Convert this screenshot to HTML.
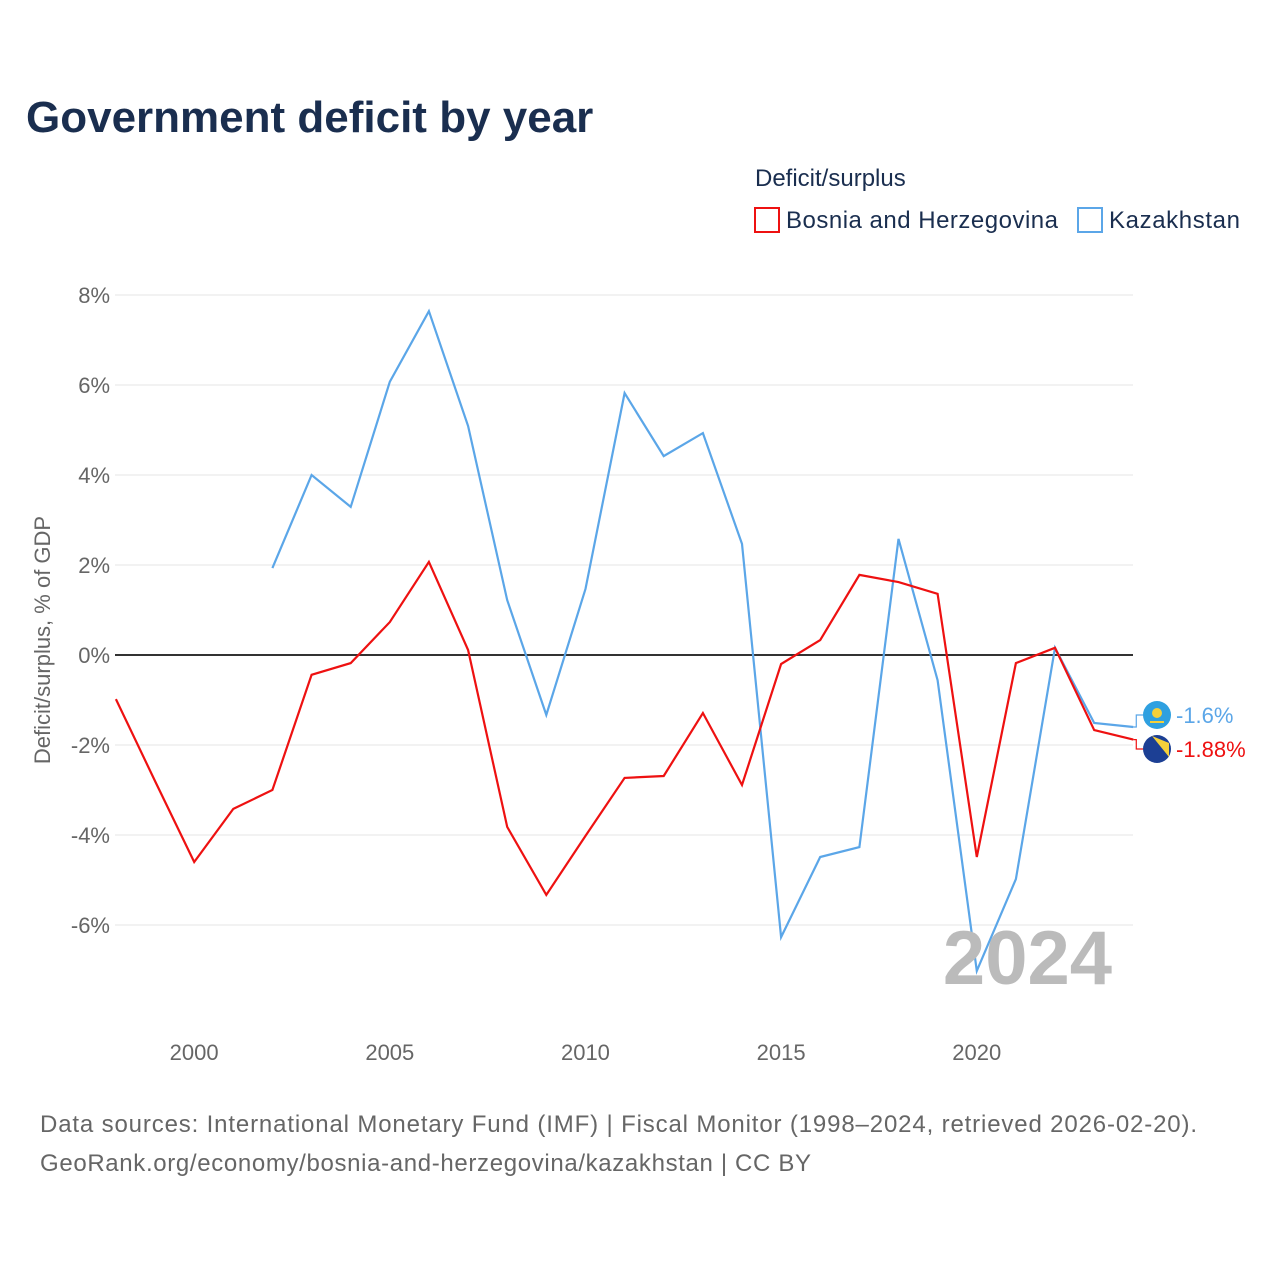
<!DOCTYPE html>
<html><head><meta charset="utf-8"><style>
body{margin:0;background:#fff;font-family:"Liberation Sans",sans-serif}
svg{display:block}
</style></head><body>
<svg id="c" width="1280" height="1280" xmlns="http://www.w3.org/2000/svg">
<text x="26" y="132" font-size="44" font-weight="bold" fill="#1a2e4f">Government deficit by year</text>
<text x="755" y="186" font-size="24" fill="#1a2e4f">Deficit/surplus</text>
<g><rect x="755" y="208" width="24" height="24" fill="none" stroke="#ee1111" stroke-width="2"/><text x="786" y="228" font-size="24" fill="#1a2e4f" textLength="272">Bosnia and Herzegovina</text></g>
<g><rect x="1078" y="208" width="24" height="24" fill="none" stroke="#5ba6e8" stroke-width="2"/><text x="1109" y="228" font-size="24" fill="#1a2e4f" textLength="131">Kazakhstan</text></g>
<text transform="translate(50,640) rotate(-90)" text-anchor="middle" font-size="22" fill="#666">Deficit/surplus, % of GDP</text>
<g id="grid"></g><g id="series"></g>
<text x="1112" y="984" text-anchor="end" font-size="76" font-weight="bold" fill="#bbb">2024</text>
<text x="40" y="1132" font-size="24" fill="#666" textLength="1157">Data sources: International Monetary Fund (IMF) | Fiscal Monitor (1998–2024, retrieved 2026-02-20).</text>
<text x="40" y="1171" font-size="24" fill="#666" textLength="771">GeoRank.org/economy/bosnia-and-herzegovina/kazakhstan | CC BY</text>
</svg>
<script>
const years=[1998,1999,2000,2001,2002,2003,2004,2005,2006,2007,2008,2009,2010,2011,2012,2013,2014,2015,2016,2017,2018,2019,2020,2021,2022,2023,2024];
const bosnia=[-0.98,-2.8,-4.6,-3.42,-3.0,-0.44,-0.18,0.73,2.07,0.11,-3.82,-5.33,-4.02,-2.73,-2.69,-1.29,-2.89,-0.2,0.33,1.78,1.62,1.36,-4.49,-0.18,0.16,-1.67,-1.88];
const kazakhstan=[null,null,null,null,1.93,4.0,3.29,6.07,7.64,5.09,1.22,-1.33,1.47,5.82,4.42,4.93,2.47,-6.27,-4.49,-4.27,2.58,-0.56,-7.02,-4.98,0.16,-1.51,-1.6];
const yTicks=[8,6,4,2,0,-2,-4,-6];
const xTicks=[2000,2005,2010,2015,2020];
const X=y=>115.9+(y-1998)*39.13, Y=v=>655-v*45;
const NS="http://www.w3.org/2000/svg";
function mk(t,a,p){const e=document.createElementNS(NS,t);for(const k in a)e.setAttribute(k,a[k]);p.appendChild(e);return e;}
const g=document.getElementById('grid'),s=document.getElementById('series');
yTicks.forEach(v=>{
 const l=mk('line',{x1:115,x2:1133,y1:Y(v),y2:Y(v),stroke:v===0?'#333':'#e6e6e6','stroke-width':v===0?2:1},g);
 
 
 const t=mk('text',{x:110,y:Y(v)+8,'text-anchor':'end','font-size':22,fill:'#666'},g);t.textContent=v+'%';
 
 
});
xTicks.forEach(v=>{
 const t=mk('text',{x:X(v),y:1060,'text-anchor':'middle','font-size':22,fill:'#666'},g);t.textContent=v;
 
 
});
function line(vals,col,name){
 let d='';vals.forEach((v,i)=>{if(v==null)return;d+=(d?'L':'M')+X(years[i]).toFixed(1)+','+Y(v).toFixed(1);});
 const p=mk('path',{d:d,fill:'none',stroke:col,'stroke-width':2.2},s);
 
 
}
line(kazakhstan,'#5ba6e8','kazakhstan-line');
line(bosnia,'#ee1111','bosnia-line');
function endLabel(v,col,fy,txt,name,flag){
 const x0=X(2024),y0=Y(v);
 mk('path',{d:`M${x0},${y0}H${x0+3}V${fy}H${x0+10}`,fill:'none',stroke:col,'stroke-width':1.2},s);
 const c=mk('g',{},s);
 
 
 flag(c,1157,fy);
 const t=mk('text',{x:1176,y:fy+8,'font-size':22,fill:col},s);t.textContent=txt;
 
 
}
endLabel(kazakhstan[26],'#5ba6e8',715,kazakhstan[26]+'%','kazakhstan',(c,x,y)=>{
 mk('circle',{cx:x,cy:y,r:14,fill:'#2fa0e0'},c);mk('circle',{cx:x,cy:y-2,r:5,fill:'#f5d03a'},c);
 mk('rect',{x:x-7,y:y+6,width:14,height:2,fill:'#f5d03a'},c);});
endLabel(bosnia[26],'#ee1111',749,bosnia[26]+'%','bosnia',(c,x,y)=>{
 mk('circle',{cx:x,cy:y,r:14,fill:'#1c3f94'},c);
 mk('path',{d:`M${x-5},${y-13}L${x+12},${y-6}L${x+12},${y+8}Z`,fill:'#f5d03a'},c);});
</script>
</body></html>
